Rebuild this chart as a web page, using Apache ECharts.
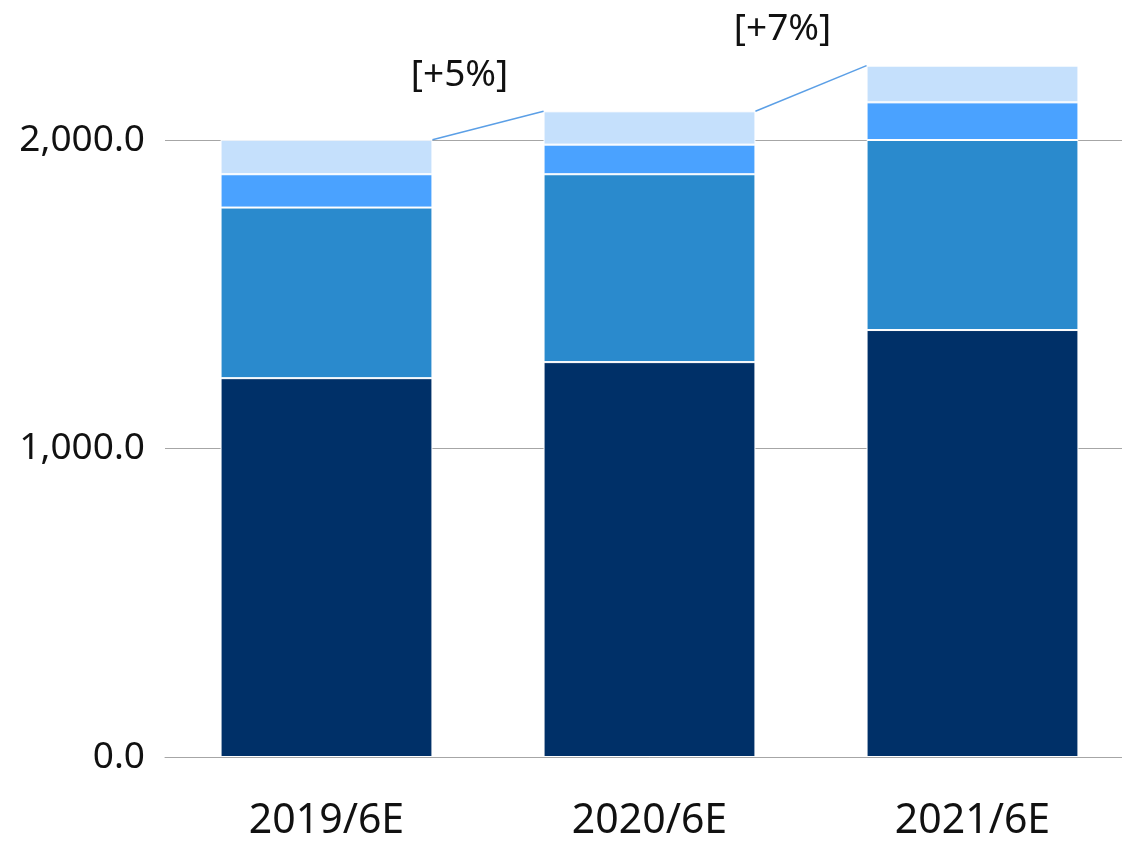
<!DOCTYPE html>
<html>
<head>
<meta charset="utf-8">
<style>
  html, body { margin: 0; padding: 0; background: #fff; overflow: hidden; }
  #chart { width: 1134px; height: 843px; }
</style>
<script src="https://cdn.jsdelivr.net/npm/echarts@6/dist/echarts.min.js"></script>
</head>
<body>
<div id="chart"></div>
<script>
  // chart data
  const categories = ['2019/6E', '2020/6E', '2021/6E']
  const seriesA = [1228, 1280, 1384]
  const seriesB = [553, 609, 616]
  const seriesC = [108, 96, 122]
  const seriesD = [112, 108, 119]
  const growthLabels = ['[+5%]', '[+7%]']
  const yTicks = [0, 1000, 2000]

  const colors = ['#003068', '#2a8acd', '#4aa2ff', '#c5e0fc']
  const barRatio = 0.656

  const totals = categories.map((c, i) => seriesA[i] + seriesB[i] + seriesC[i] + seriesD[i])
  const connectData = growthLabels.map((g, i) => [i, totals[i], totals[i + 1]])

  const font = '"Noto Sans", sans-serif'

  function barSeries(data, color) {
    return {
      type: 'bar',
      stack: 'total',
      barWidth: (barRatio * 100) + '%',
      clip: false,
      data: data,
      itemStyle: { color: color, borderColor: '#fff', borderWidth: 1 },
      emphasis: { disabled: true }
    }
  }

  // the chart box is a bit wider than the window, the right edge of the grid runs off the page
  const chart = echarts.init(document.getElementById('chart'))
  chart.setOption({
    animation: false,
    grid: { left: 165, top: 140, right: 0, bottom: 86 },
    xAxis: {
      type: 'category',
      data: categories,
      axisLine: { lineStyle: { color: '#a6a6a6', width: 1 } },
      axisTick: { show: false },
      axisLabel: { color: '#111', fontSize: 41, fontFamily: font, margin: 44 }
    },
    yAxis: {
      type: 'value',
      min: yTicks[0],
      max: yTicks[yTicks.length - 1],
      interval: 1000,
      axisLine: { show: false },
      axisTick: { show: false },
      splitLine: { lineStyle: { color: '#a6a6a6', width: 1 } },
      axisLabel: {
        color: '#111', fontSize: 37, fontFamily: font, margin: 20,
        formatter: v => v.toLocaleString('en-US', { minimumFractionDigits: 1, maximumFractionDigits: 1 })
      }
    },
    series: [
      barSeries(seriesA, colors[0]),
      barSeries(seriesB, colors[1]),
      barSeries(seriesC, colors[2]),
      barSeries(seriesD, colors[3]),
      {
        type: 'custom',
        data: connectData,
        z: 5,
        renderItem: function (params, api) {
          const i = api.value(0)
          const half = api.size([1, 0])[0] * barRatio / 2
          const p1 = api.coord([i, api.value(1)])
          const p2 = api.coord([i + 1, api.value(2)])
          const x1 = p1[0] + half
          const x2 = p2[0] - half
          return {
            type: 'group',
            children: [
              {
                type: 'line',
                shape: { x1: x1, y1: p1[1], x2: x2, y2: p2[1] },
                style: { stroke: '#5b9fe6', lineWidth: 1.5 }
              },
              {
                type: 'text',
                x: x2 - 84,
                y: p2[1] - 36,
                style: {
                  text: growthLabels[params.dataIndex],
                  fill: '#111',
                  font: '37px ' + font,
                  align: 'center',
                  verticalAlign: 'middle'
                }
              }
            ]
          }
        }
      }
    ]
  })
</script>
</body>
</html>
